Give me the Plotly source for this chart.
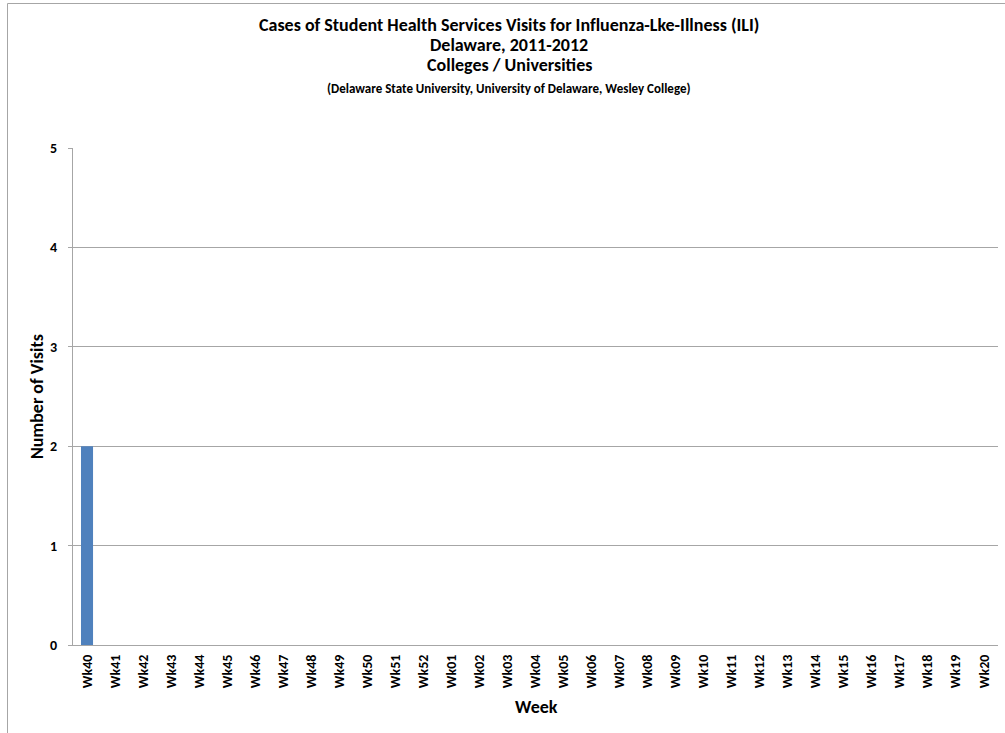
import plotly.graph_objects as go

weeks = ["Wk40", "Wk41", "Wk42", "Wk43", "Wk44", "Wk45", "Wk46", "Wk47", "Wk48", "Wk49",
         "Wk50", "Wk51", "Wk52", "Wk01", "Wk02", "Wk03", "Wk04", "Wk05", "Wk06", "Wk07",
         "Wk08", "Wk09", "Wk10", "Wk11", "Wk12", "Wk13", "Wk14", "Wk15", "Wk16", "Wk17",
         "Wk18", "Wk19", "Wk20"]
visits = [2, 0, 0, 0, 0, 0, 0, 0, 0, 0, 0, 0, 0, 0, 0, 0, 0, 0, 0, 0,
          0, 0, 0, 0, 0, 0, 0, 0, 0, 0, 0, 0, 0]
y_ticks = [0, 1, 2, 3, 4, 5]

ZWNJ = "\u200c"
title_lines = [
    "Cases of Student Health Services Visits for Inf" + ZWNJ + "luenza-Lke-Illness (ILI)",
    "Delaware, 2011-2012",
    "Colleges / Universi" + ZWNJ + "ties",
    "(Delaware State University, University of Delaware, Wesley College)",
]

FONT = "Carlito, Liberation Sans Narrow, Arial Narrow, sans-serif"
W, H = 1005, 733
L, R, T, B = 73, 7, 148, 88
pw, ph = W - L - R, H - T - B

def px(x):
    return (x - L) / pw

def py(y):
    return (H - B - y) / ph

fig = go.Figure()
fig.add_trace(go.Bar(x=weeks, y=visits, marker=dict(color="#4F81BD", line=dict(width=0)),
                     width=0.43, hoverinfo="skip"))

fig.update_layout(
    width=W, height=H,
    margin=dict(l=L, r=R, t=T, b=B),
    plot_bgcolor="white", paper_bgcolor="white",
    showlegend=False,
    font=dict(family=FONT, color="black"),
)
fig.update_xaxes(
    type="category", categoryorder="array", categoryarray=weeks,
    tickangle=-90, tickfont=dict(family=FONT, size=14, color="black", weight="bold"),
    showline=True, linecolor="#A6A6A6", linewidth=1, showgrid=False,
    ticks="", ticklabelstandoff=3,
)
fig.update_yaxes(
    range=[0, 5], tickvals=y_ticks, ticks="outside", ticklen=4, tickcolor="#A6A6A6",
    tickfont=dict(family=FONT, size=14, color="black", weight="bold"),
    showline=True, linecolor="#A6A6A6", linewidth=1, ticklabelstandoff=8,
    showgrid=True, gridcolor="#A6A6A6", gridwidth=1, zeroline=False,
)

sizes = [18, 18, 18, 13]
centers = [25, 45, 65, 88]
for text, size, yc in zip(title_lines, sizes, centers):
    fig.add_annotation(text=f"<b>{text}</b>", x=px(509), y=py(yc), xref="paper", yref="paper",
                       xanchor="center", yanchor="middle", showarrow=False,
                       font=dict(family=FONT, size=size, color="black"))

# axis titles
fig.add_annotation(text="<b>Week</b>", x=px(536), y=py(707), xref="paper", yref="paper",
                   xanchor="center", yanchor="middle", showarrow=False,
                   font=dict(family=FONT, size=18, color="black"))
fig.add_annotation(text="<b>Number of Visits</b>", x=px(37), y=py(397), xref="paper", yref="paper",
                   xanchor="center", yanchor="middle", showarrow=False, textangle=-90,
                   font=dict(family=FONT, size=18, color="black"))

fig.add_shape(type="rect", xref="paper", yref="paper",
              x0=px(7.5), x1=px(1012), y0=py(3.5), y1=py(745),
              line=dict(color="#A6A6A6", width=1), layer="below")

fig.write_html("out.html", config={"displayModeBar": False},
               post_script="document.body.style.margin='0px';")
